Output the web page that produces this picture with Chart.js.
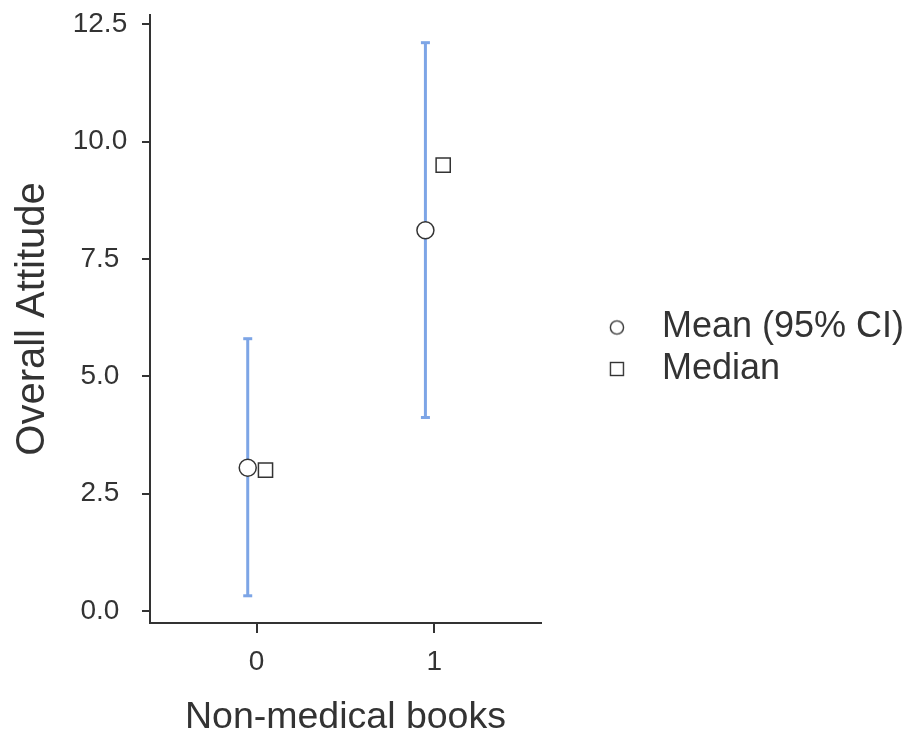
<!DOCTYPE html>
<html>
<head>
<meta charset="UTF-8">
<title>Overall Attitude</title>
<script src="https://cdn.jsdelivr.net/npm/chart.js@4.4.1/dist/chart.umd.min.js"></script>
<style>
  body { margin: 0; background: #fff; }
</style>
</head>
<body>
<canvas id="myChart" width="914" height="736"></canvas>
<script>
var categories = [0, 1];
var meanValues = [3.05, 8.11];
var ciLower = [0.32, 4.12];
var ciUpper = [5.80, 12.11];
var medianValues = [3.0, 9.5];
var yTicks = [0, 2.5, 5, 7.5, 10, 12.5];
var legendLabels = ['Mean (95% CI)', 'Median'];
var xTitle = 'Non-medical books';
var yTitle = 'Overall Attitude';

var dodge = 0.05;
var barColor = 'rgb(125, 165, 230)';
var markColor = '#333333';

Chart.defaults.font.family = '"Liberation Sans", Arial, sans-serif';

// error bars: one short line per category, caps are 'line' points
var barSets = categories.map(function (c, i) {
    return {
        showLine: true,
        data: [{x: c - dodge, y: ciLower[i]}, {x: c - dodge, y: ciUpper[i]}],
        borderColor: barColor,
        borderWidth: 3,
        pointStyle: 'line',
        pointRadius: 4.5,
        pointHoverRadius: 4.5,
        pointBorderWidth: 3,
        pointBorderColor: barColor,
        order: 3
    };
});

var meanSet = {
    data: categories.map(function (c, i) { return {x: c - dodge, y: meanValues[i]}; }),
    pointStyle: 'circle',
    pointRadius: 8.5,
    pointHoverRadius: 8.5,
    backgroundColor: '#ffffff',
    borderColor: markColor,
    borderWidth: 1.5,
    order: 0
};

var medianSet = {
    data: categories.map(function (c, i) { return {x: c + dodge, y: medianValues[i]}; }),
    pointStyle: 'rect',
    pointRadius: 10,
    pointHoverRadius: 10,
    backgroundColor: '#ffffff',
    borderColor: markColor,
    borderWidth: 1.5,
    order: 1
};

function legendIcon(shape) {
    var cv = document.createElement('canvas');
    cv.width = 18;
    cv.height = 18;
    var g = cv.getContext('2d');
    g.strokeStyle = '#333';
    g.lineWidth = 1.4;
    if (shape == 'circle') {
        g.beginPath();
        g.arc(9, 9, 6.6, 0, Math.PI * 2);
        g.stroke();
    } else {
        g.strokeRect(2.5, 2.5, 13, 13);
    }
    return cv;
}
var icons = [legendIcon('circle'), legendIcon('rect')];

var myChart = new Chart(document.getElementById('myChart'), {
    type: 'scatter',
    data: { datasets: [meanSet, medianSet].concat(barSets) },
    options: {
        responsive: false,
        animation: false,
        devicePixelRatio: 1,
        events: [],
        layout: { padding: { top: 15 } },
        plugins: {
            tooltip: { enabled: false },
            // empty title used as a gap between plot and legend
            title: {
                display: true, position: 'right', text: '', weight: 500,
                font: { size: 10, lineHeight: 1 },
                padding: { top: 16.75, bottom: 16.75 }
            },
            legend: {
                position: 'right',
                align: 'start',
                maxWidth: 360,
                title: {
                    display: true, text: '',
                    font: { size: 10, lineHeight: 1 },
                    padding: { top: 279, bottom: 0 }
                },
                labels: {
                    usePointStyle: true,
                    pointStyleWidth: 54,
                    padding: 5.5,
                    color: '#333',
                    font: { size: 36 },
                    generateLabels: function () {
                        return legendLabels.map(function (t, i) {
                            return {
                                text: t, pointStyle: icons[i], fillStyle: '#fff',
                                strokeStyle: '#333', lineWidth: 1.4, hidden: false,
                                datasetIndex: i, fontColor: '#333'
                            };
                        });
                    }
                }
            }
        },
        scales: {
            x: {
                type: 'linear',
                min: -0.6,
                max: 1.6,
                afterBuildTicks: function (s) { s.ticks = categories.map(function (v) { return {value: v}; }); },
                afterFit: function (s) { s.height = 113; },
                border: { color: '#333', width: 2 },
                grid: { drawOnChartArea: false, color: '#333', lineWidth: 2, tickLength: 10 },
                ticks: {
                    color: '#333', padding: 12, font: { size: 28 },
                    callback: function (v) { return String(v); }
                },
                title: {
                    display: true, text: xTitle, color: '#333',
                    font: { size: 37.5, lineHeight: 1 }, padding: { top: 0, bottom: 0 }
                }
            },
            y: {
                type: 'linear',
                min: -0.26,
                max: 12.7,
                afterBuildTicks: function (s) { s.ticks = yTicks.map(function (v) { return {value: v}; }); },
                afterFit: function (s) { s.width = 150; s.paddingTop = 0; s.paddingBottom = 0; },
                border: { color: '#333', width: 2 },
                grid: { drawOnChartArea: false, color: '#333', lineWidth: 2, tickLength: 8 },
                ticks: {
                    color: '#333', padding: 14.8, crossAlign: 'center', font: { size: 28 },
                    callback: function (v) { return v.toFixed(1); }
                },
                title: {
                    display: true, text: yTitle, color: '#333',
                    font: { size: 40, lineHeight: 1 }, padding: { top: 13, bottom: 0 }
                }
            }
        }
    }
});
</script>
</body>
</html>
